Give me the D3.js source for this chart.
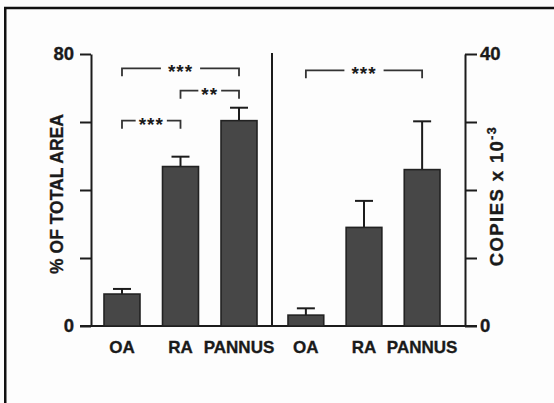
<!DOCTYPE html>
<html>
<head>
<meta charset="utf-8">
<script src="https://cdn.jsdelivr.net/npm/d3@7"></script>
<style>
  html, body { margin: 0; padding: 0; background: #fdfdfd; }
  svg { display: block; }
  text { font-family: "Liberation Sans", Arial, sans-serif; font-weight: bold; fill: #1a1a1a; }
</style>
</head>
<body>
<svg id="chart" width="554" height="403"></svg>
<script>
// ---- data ----
const groups = ["OA", "RA", "PANNUS"];
const areaMean = [9.4, 46.9, 60.4];      // % of total area
const areaErr = [1.5, 2.9, 3.8];
const copiesMean = [1.6, 14.5, 23.0];    // copies x 10^-3
const copiesErr = [1.0, 3.9, 7.1];
const areaTicks = [0, 20, 40, 60, 80];
const areaTickLabels = [0, 80];
const copiesTicks = [0, 10, 20, 30, 40];
const copiesTickLabels = [0, 40];
const areaSigFrom = ["OA", "RA", "OA"];
const areaSigTo = ["PANNUS", "PANNUS", "RA"];
const areaSigLevel = [75.8, 69.2, 60.4];
const areaSigLabel = ["***", "**", "***"];
const copiesSigFrom = ["OA"];
const copiesSigTo = ["PANNUS"];
const copiesSigLevel = [37.6];
const copiesSigLabel = ["***"];
const leftTitle = "% OF TOTAL AREA";
const rightTitle = "COPIES x 10";
const rightTitleSup = "-3";

const svg = d3.select("#chart");
const ink = "#1c1c1c";

// frame
svg.append("rect").attr("x", 5.25).attr("y", 8).attr("width", 700).attr("height", 600)
  .attr("fill", "none").attr("stroke", "#111").attr("stroke-width", 2.5);

const y0 = 326, yTop = 54;
const yL = d3.scaleLinear().domain([0, 80]).range([y0, yTop]);
const yR = d3.scaleLinear().domain([0, 40]).range([y0, yTop]);
const xL = d3.scaleBand().domain(groups).range([104, 257]).paddingInner(0.385).paddingOuter(0);
const xR = d3.scaleBand().domain(groups).range([288, 440]).paddingInner(0.385).paddingOuter(0);

const axL = 91, axR = 465, sepX = 272;

function heavy(sel) { return sel.attr("stroke", "#1a1a1a").attr("stroke-width", 0.35); }

// left axis
const gL = svg.append("g").attr("transform", `translate(${axL},0)`)
  .call(d3.axisLeft(yL).tickValues(areaTicks).tickSize(11).tickSizeOuter(0).tickPadding(6)
    .tickFormat(d => areaTickLabels.includes(d) ? d : ""));
// right axis
const gR = svg.append("g").attr("transform", `translate(${axR},0)`)
  .call(d3.axisRight(yR).tickValues(copiesTicks).tickSize(12).tickSizeOuter(0).tickPadding(3)
    .tickFormat(d => copiesTickLabels.includes(d) ? d : ""));
[gL, gR].forEach(g => {
  g.selectAll("path, line").attr("stroke", ink).attr("stroke-width", 2);
  heavy(g.selectAll("text").attr("font-size", 18.5).attr("fill", ink)
    .style("font-family", '"Liberation Sans", Arial, sans-serif').style("font-weight", "bold"));
});

// baseline & separator
svg.append("line").attr("x1", axL - 11).attr("x2", axR + 12).attr("y1", y0).attr("y2", y0)
  .attr("stroke", ink).attr("stroke-width", 2);
svg.append("line").attr("x1", sepX).attr("x2", sepX).attr("y1", yTop - 1).attr("y2", y0)
  .attr("stroke", ink).attr("stroke-width", 2);

function panel(x, y, means, errs, sigFrom, sigTo, sigLevel, sigLabel) {
  const g = svg.append("g");
  const bw = x.bandwidth();
  const cap = 18;
  // error bars
  groups.forEach((c, i) => {
    const cx = x(c) + bw / 2;
    g.append("line").attr("x1", cx).attr("x2", cx).attr("y1", y(means[i])).attr("y2", y(means[i] + errs[i]))
      .attr("stroke", ink).attr("stroke-width", 2);
    g.append("line").attr("x1", cx - cap / 2).attr("x2", cx + cap / 2)
      .attr("y1", y(means[i] + errs[i])).attr("y2", y(means[i] + errs[i]))
      .attr("stroke", ink).attr("stroke-width", 2);
  });
  // bars
  g.selectAll("rect.bar").data(groups).join("rect").attr("class", "bar")
    .attr("x", c => x(c)).attr("width", bw)
    .attr("y", (c, i) => y(means[i])).attr("height", (c, i) => y(0) - y(means[i]))
    .attr("fill", "#474747").attr("stroke", "#222").attr("stroke-width", 1.6);
  // labels
  heavy(g.selectAll("text.cat").data(groups).join("text").attr("class", "cat")
    .attr("x", c => x(c) + bw / 2).attr("y", 353).attr("text-anchor", "middle")
    .attr("font-size", 17).text(c => c));
  // significance brackets
  sigFrom.forEach((f, i) => {
    const xa = x(f) + bw / 2, xb = x(sigTo[i]) + bw / 2;
    const yy = y(sigLevel[i]);
    const t = g.append("text").attr("x", (xa + xb) / 2).attr("y", yy + 10)
      .attr("text-anchor", "middle").attr("font-size", 19).attr("fill", "#555")
      .attr("letter-spacing", 1).text(sigLabel[i]);
    const tw = t.node().getComputedTextLength();
    const pad = (xb - xa) > 100 ? 7 : 3;
    const gl = (xa + xb) / 2 - tw / 2 - pad, gr = (xa + xb) / 2 + tw / 2 + pad;
    g.append("path").attr("d", `M${xa},${yy + 8}V${yy}H${gl}M${gr},${yy}H${xb}V${yy + 8}`)
      .attr("fill", "none").attr("stroke", "#333").attr("stroke-width", 1.8);
  });
}
panel(xL, yL, areaMean, areaErr, areaSigFrom, areaSigTo, areaSigLevel, areaSigLabel);
panel(xR, yR, copiesMean, copiesErr, copiesSigFrom, copiesSigTo, copiesSigLevel, copiesSigLabel);

// axis titles
heavy(svg.append("text").attr("transform", "translate(63,194) rotate(-90)")
  .attr("text-anchor", "middle").attr("font-size", 17.5).text(leftTitle));
const rt = heavy(svg.append("text").attr("transform", "translate(503,196) rotate(-90)")
  .attr("text-anchor", "middle").attr("font-size", 18.5).attr("letter-spacing", 1.4));
rt.append("tspan").text(rightTitle);
rt.append("tspan").attr("dy", -7).attr("font-size", 12.5).text(rightTitleSup);
</script>
</body>
</html>
